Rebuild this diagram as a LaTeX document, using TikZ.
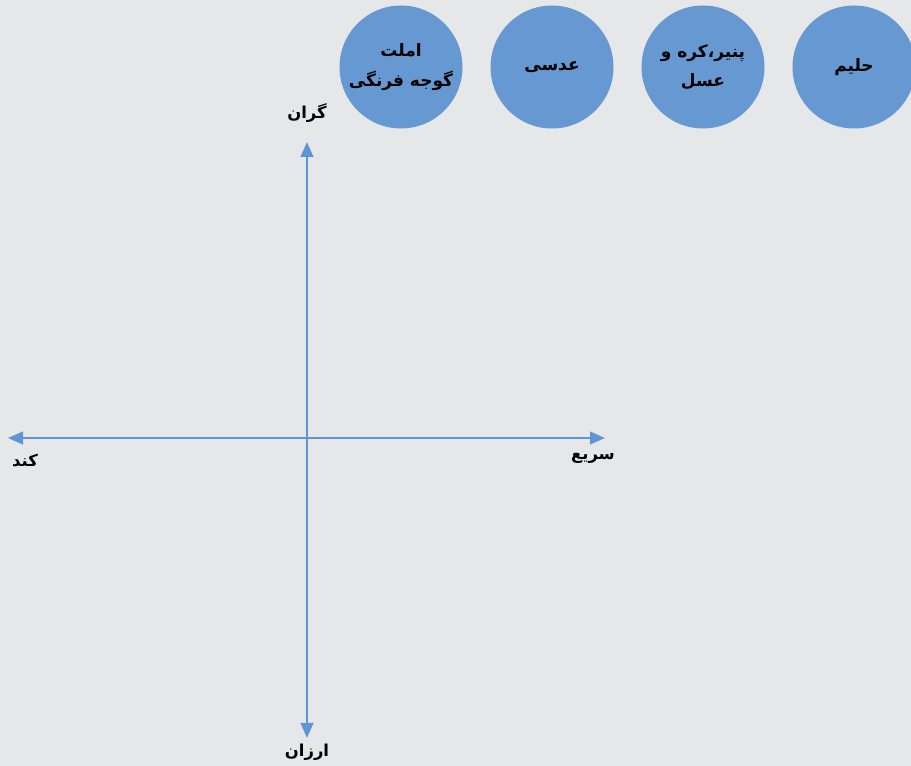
\documentclass[tikz,border=0pt]{standalone}
\usepackage{fontspec}
\usepackage{tikz}
\usetikzlibrary{positioning, arrows.meta}
\TeXXeTstate=1
\newfontfamily\persianfont[Script=Arabic]{DejaVu Sans}
\newcommand{\fa}[1]{{\persianfont\bfseries\beginR #1\endR}}
\definecolor{bgGray}{HTML}{E6E7E9}
\definecolor{dishBlue}{HTML}{6699D2}
\definecolor{axisBlue}{HTML}{5F95D3}
\tikzset{
  dish/.style={circle, fill=dishBlue, minimum size=3.69cm, inner sep=0pt, align=center, font=\fontsize{14.5}{25}\selectfont},
  axislabel/.style={font=\fontsize{14}{16}\selectfont, inner sep=0pt},
  axisline/.style={axisBlue, line width=1.8pt, {Triangle[length=0.45cm,width=0.38cm]}-{Triangle[length=0.45cm,width=0.38cm]}}
}

\begin{document}
\begin{tikzpicture}[x=0.03cm, y=-0.03cm]
\useasboundingbox[fill=bgGray] (0,0) rectangle (911,766);
% dishes
\node[dish] (omlet) at (401,67) {\fa{املت}\\\fa{گوجه فرنگی}};
\node[dish] (adasi) at (552,67) {\fa{عدسی}};
\node[dish] (panir) at (703,67) {\fa{پنیر،کره و}\\\fa{عسل}};
\node[dish] (halim) at (854,67) {\fa{حلیم}};
% axes
\coordinate (top) at (307,142);
\coordinate (bottom) at (307,738);
\coordinate (left) at (8,438);
\coordinate (right) at (605,438);
\draw[axisline] (top) -- (bottom);
\draw[axisline] (left) -- (right);
\node[axislabel] (expensive) at (307,113) {\fa{گران}};
\node[axislabel] (cheap) at (307,752) {\fa{ارزان}};
\node[axislabel] (slow) at (25,460) {\fa{کند}};
\node[axislabel] (fast) at (593,458) {\fa{سریع}};
\end{tikzpicture}
\end{document}
